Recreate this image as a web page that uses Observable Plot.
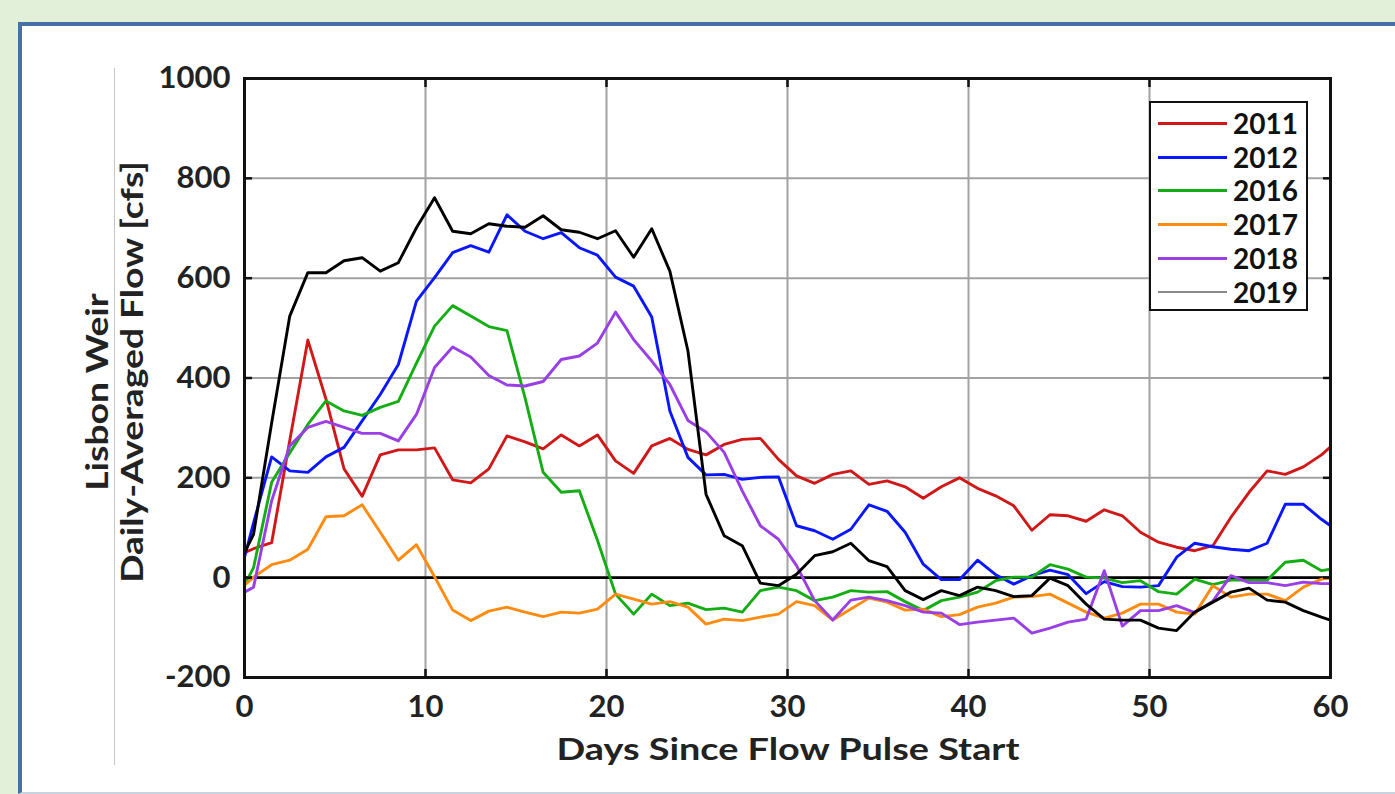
<!DOCTYPE html>
<html>
<head>
<meta charset="utf-8">
<script src="https://cdn.jsdelivr.net/npm/d3@7"></script>
<script src="https://cdn.jsdelivr.net/npm/@observablehq/plot@0.6"></script>
<style>
  html, body { margin: 0; padding: 0; width: 1395px; height: 794px; overflow: hidden; background: #e2efd9; font-family: Lato, "Open Sans", sans-serif; }
  #panel { position: absolute; left: 18px; top: 22px; width: 1400px; height: 766px; background: #fff;
           border-left: 4px solid #4670a8; border-top: 4px solid #4670a8; border-bottom: 2px solid #c9d3df; }
  #vline { position: absolute; left: 114px; top: 68px; width: 1px; height: 697px; background: #c4c4c4; }
  #chart { position: absolute; left: 0; top: 0; width: 1395px; height: 794px; }
  .ytitle, .xtitle { position: absolute; font-weight: 700; font-size: 30px; color: #222; white-space: nowrap; line-height: 1; }
  .ytitle { transform: translate(-50%, -50%) rotate(-90deg) scaleX(1.24); }
  .xtitle { transform: translate(-50%, -50%) scaleX(1.26); }
  #legend { position: absolute; left: 1149px; top: 101px; width: 155px; height: 206px; background: #fff; border: 2px solid #111; }
  .lrow { position: absolute; left: 0; width: 158px; height: 30px; }
  .lline { position: absolute; left: 7px; width: 69px; top: 14px; height: 3px; }
  .ltext { position: absolute; left: 82px; top: 0; font-weight: 700; font-size: 28px; line-height: 30px; color: #111; }
</style>
</head>
<body>
<div id="panel"></div>
<div id="vline"></div>
<div id="chart"></div>
<script>
// ---- data ----
const years = ["2011", "2012", "2016", "2017", "2018", "2019"];
const colors = ["#d01818", "#0a16ff", "#14ad14", "#ff8c10", "#9a3ee6", "#000000"];
const legendColors = ["#d01818", "#0a16ff", "#14ad14", "#ff8c10", "#9a3ee6", "#8a8a8a"];

const days = [0, 0.5, 1.5, 2.5, 3.5, 4.5, 5.5, 6.5, 7.5, 8.5, 9.5, 10.5, 11.5, 12.5, 13.5, 14.5, 15.5, 16.5, 17.5, 18.5, 19.5,
  20.5, 21.5, 22.5, 23.5, 24.5, 25.5, 26.5, 27.5, 28.5, 29.5, 30.5, 31.5, 32.5, 33.5, 34.5, 35.5, 36.5, 37.5, 38.5, 39.5,
  40.5, 41.5, 42.5, 43.5, 44.5, 45.5, 46.5, 47.5, 48.5, 49.5, 50.5, 51.5, 52.5, 53.5, 54.5, 55.5, 56.5, 57.5, 58.5, 59.5, 60];

const flow2011 = [50, 58, 70, 275, 476, 358, 218, 163, 246, 256, 256, 260, 196, 190, 218, 284, 272, 258, 286, 264, 286,
  234, 209, 264, 279, 257, 246, 267, 277, 279, 237, 204, 189, 207, 214, 187, 194, 182, 159, 182, 200,
  179, 164, 144, 95, 126, 124, 113, 136, 124, 91, 71, 61, 54, 64, 121, 171, 214, 207, 222, 246, 262];
const flow2012 = [41, 110, 242, 214, 211, 242, 261, 314, 367, 427, 554, 601, 651, 665, 652, 727, 694, 679, 691, 661, 646,
  602, 584, 522, 334, 241, 206, 207, 197, 201, 202, 104, 94, 77, 97, 146, 133, 91, 27, -4, -4,
  35, 6, -13, 4, 15, 6, -32, -8, -18, -19, -16, 41, 69, 62, 57, 54, 69, 147, 147, 117, 104];
const flow2016 = [-15, 20, 191, 250, 307, 354, 334, 325, 341, 353, 430, 504, 545, 524, 503, 495, 360, 211, 171, 174, 75,
  -33, -73, -33, -56, -51, -64, -61, -69, -26, -19, -26, -46, -39, -26, -29, -28, -48, -66, -46, -39,
  -29, -6, 1, 1, 26, 17, 1, -1, -10, -6, -28, -33, -3, -14, -5, -5, -5, 31, 35, 14, 17];
const flow2017 = [-15, 1, 26, 35, 57, 122, 124, 146, 91, 35, 66, 2, -65, -86, -67, -59, -69, -78, -69, -71, -63,
  -33, -43, -53, -48, -59, -93, -83, -86, -79, -73, -48, -56, -85, -63, -41, -49, -65, -63, -78, -74,
  -59, -51, -39, -38, -33, -51, -69, -81, -71, -53, -53, -69, -73, -16, -39, -33, -33, -46, -19, -3, -1];
const flow2018 = [-29, -19, 154, 264, 301, 313, 301, 289, 289, 274, 327, 421, 462, 442, 405, 386, 384, 393, 437, 444, 470,
  532, 477, 434, 387, 315, 292, 251, 174, 104, 77, 24, -46, -85, -45, -39, -46, -56, -69, -71, -94,
  -89, -85, -81, -111, -101, -89, -83, 14, -97, -66, -66, -56, -70, -47, 4, -10, -10, -16, -9, -12, -12];
const flow2019 = [50, 87, 310, 524, 611, 611, 635, 641, 614, 631, 701, 761, 694, 689, 709, 704, 702, 725, 697, 692, 679,
  695, 642, 699, 614, 454, 167, 84, 64, -11, -16, 7, 44, 52, 69, 34, 22, -26, -44, -26, -36,
  -19, -26, -38, -36, -1, -16, -53, -83, -85, -85, -101, -106, -69, -49, -29, -21, -45, -49, -66, -79, -85];

const xTicks = [0, 10, 20, 30, 40, 50, 60];
const yTicks = [-200, 0, 200, 400, 600, 800, 1000];
const xTitle = "Days Since Flow Pulse Start";
const yTitle1 = "Lisbon Weir";
const yTitle2 = "Daily-Averaged Flow [cfs]";

// ---- build table ----
const series = [flow2011, flow2012, flow2016, flow2017, flow2018, flow2019];
const data = years.flatMap((yr, i) => days.map((d, j) => ({year: yr, day: d, flow: series[i][j]})));
const plain = d => String(d);

const chart = Plot.plot({
  width: 1395, height: 794,
  marginLeft: 244, marginRight: 65, marginTop: 78, marginBottom: 117,
  style: {background: "transparent", fontFamily: "Lato, 'Open Sans', sans-serif", fontWeight: "700", fontSize: "31px", color: "#222", overflow: "visible"},
  x: {domain: [0, 60]},
  y: {domain: [-200, 1000]},
  color: {domain: years, range: colors},
  marks: [
    Plot.ruleX(xTicks.slice(1, -1), {stroke: "#a2a2a2", strokeWidth: 2}),
    Plot.ruleY(yTicks.slice(1, -1), {stroke: "#a2a2a2", strokeWidth: 2}),
    Plot.ruleY([0], {stroke: "#000", strokeWidth: 2.8}),
    Plot.line(data, {x: "day", y: "flow", z: "year", stroke: "year", strokeWidth: 2.9, clip: true}),
    Plot.axisX({ticks: xTicks, tickSize: 0, tickPadding: 17, tickFormat: plain, label: null, fill: "#222"}),
    Plot.axisX({ticks: xTicks, tickSize: -8, tickFormat: () => "", label: null, strokeWidth: 2.5, stroke: "#111"}),
    Plot.axisX({anchor: "top", ticks: xTicks, tickSize: -8, tickFormat: () => "", label: null, strokeWidth: 2.5, stroke: "#111"}),
    Plot.axisY({ticks: yTicks, tickSize: 0, tickPadding: 14, tickFormat: plain, label: null, fill: "#222"}),
    Plot.axisY({ticks: yTicks, tickSize: -8, tickFormat: () => "", label: null, strokeWidth: 2.5, stroke: "#111"}),
    Plot.axisY({anchor: "right", ticks: yTicks, tickSize: -8, tickFormat: () => "", label: null, strokeWidth: 2.5, stroke: "#111"}),
    Plot.frame({stroke: "#111", strokeWidth: 3})
  ]
});
document.getElementById("chart").appendChild(chart);

// ---- titles ----
function addDiv(cls, text, left, top) {
  const d = document.createElement("div");
  d.className = cls; d.textContent = text;
  d.style.left = left + "px"; d.style.top = top + "px";
  document.body.appendChild(d);
}
addDiv("ytitle", yTitle1, 96, 392);
addDiv("ytitle", yTitle2, 131, 372);
addDiv("xtitle", xTitle, 788, 748);

// ---- legend ----
const legend = document.createElement("div");
legend.id = "legend";
years.forEach((yr, i) => {
  const row = document.createElement("div");
  row.className = "lrow";
  row.style.top = (5 + i * 33.7) + "px";
  const ln = document.createElement("div");
  ln.className = "lline";
  ln.style.background = legendColors[i];
  if (i === 5) { ln.style.height = "2px"; }
  const tx = document.createElement("div");
  tx.className = "ltext"; tx.textContent = yr;
  row.appendChild(ln); row.appendChild(tx);
  legend.appendChild(row);
});
document.body.appendChild(legend);
</script>
</body>
</html>
